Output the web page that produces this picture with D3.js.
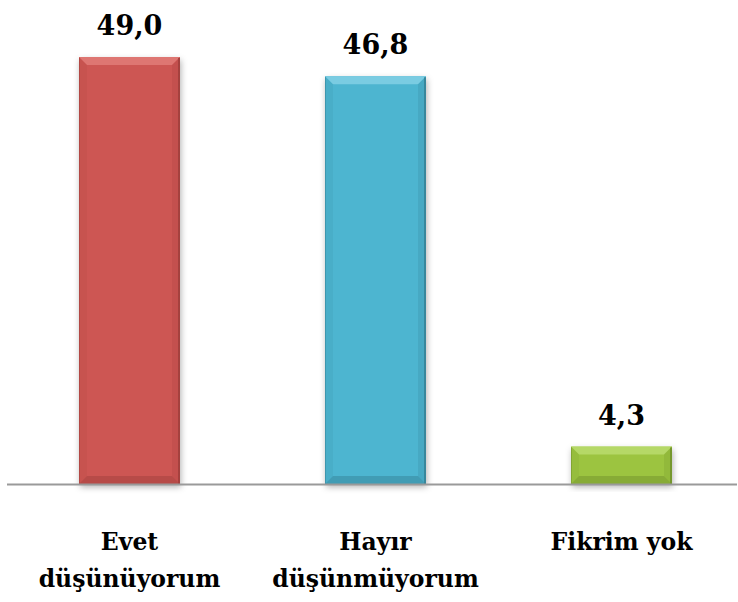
<!DOCTYPE html>
<html><head><meta charset="utf-8">
<script src="https://cdn.jsdelivr.net/npm/d3@7"></script>
<style>body{margin:0;background:#fff}svg{display:block}text{font-family:"DejaVu Serif",serif;font-weight:bold}</style>
</head><body>
<script>
const categories = [["Evet","düşünüyorum"],["Hayır","düşünmüyorum"],["Fikrim yok"]];
const values = [49.0, 46.8, 4.3];
const valueLabels = ["49,0","46,8","4,3"];
const colors = ["#CD5653","#4EB5D0","#9CC440"];
const edgeDark = ["#9E3E3B","#347F93","#6F8F2A"];
const edgeLight = ["#E27E7B","#86D2E6","#BBDD70"];

const W=738,H=602;
const svg=d3.select("body").append("svg").attr("width",W).attr("height",H);

const x=d3.scaleBand().domain(d3.range(values.length)).range([6.5,744.5]).padding(0);
const y=d3.scaleLinear().domain([0,49]).range([484,57]);
const bw=101;

const defs=svg.append("defs");
const f=defs.append("filter").attr("id","sh").attr("x","-20%").attr("y","-20%").attr("width","140%").attr("height","140%");
f.append("feDropShadow").attr("dx",1).attr("dy",3).attr("stdDeviation",3).attr("flood-color","#000").attr("flood-opacity",0.3);

const g=svg.append("g");
values.forEach((v,i)=>{
  const x0=x(i)+x.bandwidth()/2-bw/2, x1=x0+bw, y0=y(v), y1=y(0);
  const b=Math.min(8,(y1-y0)/3);
  const bar=g.append("g");
  bar.append("rect").attr("x",x0).attr("y",y0).attr("width",bw).attr("height",y1-y0)
    .attr("fill",colors[i]).attr("filter","url(#sh)");
  bar.append("polygon").attr("points",[[x0,y0],[x1,y0],[x1-b,y0+b],[x0+b,y0+b]].join(" ")).attr("fill",edgeLight[i]).attr("opacity",0.8);
  bar.append("polygon").attr("points",[[x0,y1],[x1,y1],[x1-b,y1-b],[x0+b,y1-b]].join(" ")).attr("fill",edgeDark[i]).attr("opacity",0.45);
  bar.append("polygon").attr("points",[[x0,y0],[x0+b,y0+b],[x0+b,y1-b],[x0,y1]].join(" ")).attr("fill",edgeDark[i]).attr("opacity",0.12);
  bar.append("polygon").attr("points",[[x1,y0],[x1-b,y0+b],[x1-b,y1-b],[x1,y1]].join(" ")).attr("fill",edgeDark[i]).attr("opacity",0.2);
  bar.append("line").attr("x1",x1-1).attr("x2",x1-1).attr("y1",y0+1).attr("y2",y1)
    .attr("stroke",edgeDark[i]).attr("stroke-width",2).attr("opacity",0.8);
  bar.append("line").attr("x1",x0+0.5).attr("x2",x0+0.5).attr("y1",y0+1).attr("y2",y1)
    .attr("stroke",edgeDark[i]).attr("stroke-width",1).attr("opacity",0.5);
  svg.append("text").attr("x",x(i)+x.bandwidth()/2).attr("y",y0-22)
    .attr("text-anchor","middle").attr("font-size",27).attr("fill","#000").text(valueLabels[i]);
});

svg.append("line").attr("x1",7).attr("x2",737).attr("y1",484.5).attr("y2",484.5)
  .attr("stroke","#9a9a9a").attr("stroke-width",2);

categories.forEach((lines,i)=>{
  const t=svg.append("text").attr("text-anchor","middle").attr("font-size",23.5).attr("fill","#000");
  lines.forEach((l,j)=>{
    t.append("tspan").attr("x",x(i)+x.bandwidth()/2).attr("y",550+j*37).text(l);
  });
});
</script>
</body></html>
